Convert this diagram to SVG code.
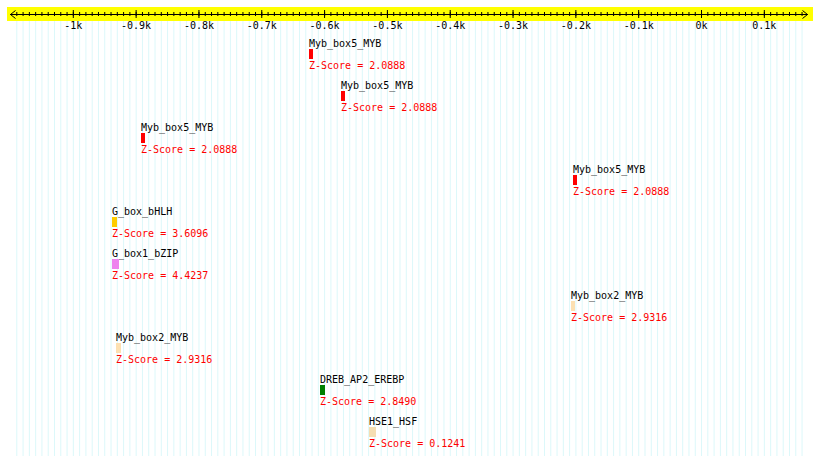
<svg xmlns="http://www.w3.org/2000/svg" width="820" height="461" viewBox="0 0 820 461">
<style>
text{font-family:"DejaVu Sans Mono","Liberation Mono",monospace;font-size:10px}
.lbl{fill:#000}
.z{fill:#ff0000}
.tk{fill:#000;text-anchor:middle}
.ax{stroke:#000;stroke-width:1;fill:none}
</style>
<rect width="820" height="461" fill="#fff"/>
<g id="grid">
<line x1="16.3" y1="238.5" x2="803" y2="238.5" stroke="#dcf8fa" stroke-width="435" stroke-dasharray="1 5.282"/>
</g>
<g id="axis">
<rect x="7" y="7" width="806" height="14" fill="#ffff00"/>
<line class="ax" x1="10" y1="14.5" x2="808" y2="14.5"/>
<line x1="16.3" y1="14" x2="803" y2="14" stroke="#000" stroke-width="4" stroke-dasharray="1 5.282"/>
<line x1="72.8" y1="14" x2="770" y2="14" stroke="#000" stroke-width="8" stroke-dasharray="1 61.82"/>
<path class="ax" d="M15.5 10.5L10.5 14.5L15.5 18.5M802.5 10.5L807.5 14.5L802.5 18.5"/>
<text class="tk" x="73.3" y="29">-1k</text>
<text class="tk" x="136.1" y="29">-0.9k</text>
<text class="tk" x="199" y="29">-0.8k</text>
<text class="tk" x="261.8" y="29">-0.7k</text>
<text class="tk" x="324.6" y="29">-0.6k</text>
<text class="tk" x="387.4" y="29">-0.5k</text>
<text class="tk" x="450.2" y="29">-0.4k</text>
<text class="tk" x="513" y="29">-0.3k</text>
<text class="tk" x="575.9" y="29">-0.2k</text>
<text class="tk" x="638.7" y="29">-0.1k</text>
<text class="tk" x="701.5" y="29">0k</text>
<text class="tk" x="764.3" y="29">0.1k</text>
</g>
<g id="connectors"></g>
<g id="n1"><text class="lbl" x="309" y="47">Myb_box5_MYB</text><rect x="309" y="49" width="4" height="10" fill="#ff0000"/><text class="z" x="309" y="69">Z-Score = 2.0888</text></g>
<g id="n2"><text class="lbl" x="341" y="89">Myb_box5_MYB</text><rect x="341" y="91" width="4" height="10" fill="#ff0000"/><text class="z" x="341" y="111">Z-Score = 2.0888</text></g>
<g id="n3"><text class="lbl" x="141" y="131">Myb_box5_MYB</text><rect x="141" y="133" width="4" height="10" fill="#ff0000"/><text class="z" x="141" y="153">Z-Score = 2.0888</text></g>
<g id="n4"><text class="lbl" x="573" y="173">Myb_box5_MYB</text><rect x="573" y="175" width="4" height="10" fill="#ff0000"/><text class="z" x="573" y="195">Z-Score = 2.0888</text></g>
<g id="n5"><text class="lbl" x="112" y="215">G_box_bHLH</text><rect x="112" y="217" width="5" height="10" fill="#ffcc00"/><text class="z" x="112" y="237">Z-Score = 3.6096</text></g>
<g id="n6"><text class="lbl" x="112" y="257">G_box1_bZIP</text><rect x="112" y="259" width="7" height="10" fill="#ee82ee"/><text class="z" x="112" y="279">Z-Score = 4.4237</text></g>
<g id="n7"><text class="lbl" x="571" y="299">Myb_box2_MYB</text><rect x="571" y="301" width="4" height="10" fill="#fde0b2"/><text class="z" x="571" y="321">Z-Score = 2.9316</text></g>
<g id="n8"><text class="lbl" x="116" y="341">Myb_box2_MYB</text><rect x="116" y="343" width="5" height="10" fill="#fde0b2"/><text class="z" x="116" y="363">Z-Score = 2.9316</text></g>
<g id="n9"><text class="lbl" x="320" y="383">DREB_AP2_EREBP</text><rect x="320" y="385" width="5" height="10" fill="#008000"/><text class="z" x="320" y="405">Z-Score = 2.8490</text></g>
<g id="n10"><text class="lbl" x="369" y="425">HSE1_HSF</text><rect x="369" y="427" width="7" height="10" fill="#f5deb3"/><text class="z" x="369" y="447">Z-Score = 0.1241</text></g>
</svg>
